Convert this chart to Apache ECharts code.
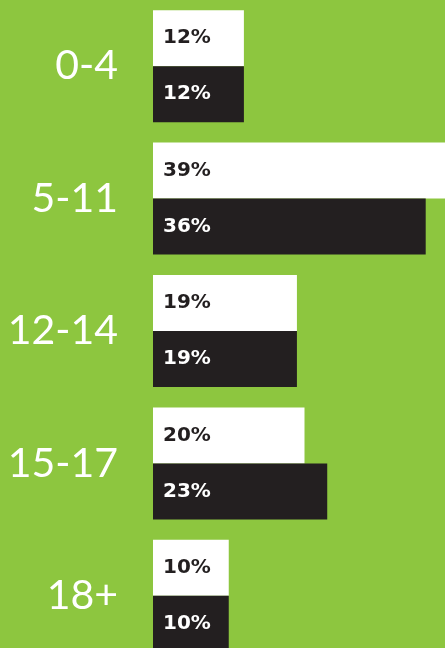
<!DOCTYPE html>
<html>
<head>
<meta charset="utf-8">
<script src="https://cdn.jsdelivr.net/npm/echarts@6/dist/echarts.min.js"></script>
<style>
    html, body {margin: 0; padding: 0; background: #8dc63f;}
    #main {width: 445px; height: 648px;}
</style>
</head>
<body>
<div id="main"></div>
<script>
// age groups, top to bottom
let ages = ['0-4', '5-11', '12-14', '15-17', '18+'];
// white bars (upper of each pair)
let whiteVals = [12, 39, 19, 20, 10];
// dark bars (lower of each pair)
let darkVals = [12, 36, 19, 23, 10];

let myChart = echarts.init(document.getElementById('main'));

function barLabel(color) {
    return {
        show: true,
        position: 'insideLeft',
        distance: 10,
        formatter: '{c}%',
        color: color,
        fontFamily: 'DejaVu Sans',
        fontWeight: 'bold',
        fontSize: 20,
        padding: [5, 0, 0, 0]
    };
}

let option = {
    backgroundColor: '#8dc63f',
    animation: false,
    grid: {
        left: 153,
        top: 0,
        width: 303,
        height: 662,
        outerBoundsMode: 'none'
    },
    xAxis: {
        type: 'value',
        min: 0,
        max: 40,
        show: false
    },
    yAxis: {
        type: 'category',
        data: ages,
        inverse: true,
        axisLine: {show: false},
        axisTick: {show: false},
        splitLine: {show: false},
        axisLabel: {
            color: '#ffffff',
            fontFamily: 'Lato',
            fontWeight: 'normal',
            fontSize: 41,
            margin: 35,
            padding: [7, 0, 0, 0]
        }
    },
    series: [{
        type: 'bar',
        data: whiteVals,
        barWidth: 56,
        barGap: '0%',
        itemStyle: {color: '#ffffff'},
        label: barLabel('#231f20')
    }, {
        type: 'bar',
        data: darkVals,
        barWidth: 56,
        barGap: '0%',
        itemStyle: {color: '#231f20'},
        label: barLabel('#ffffff')
    }]
};
myChart.setOption(option);
</script>
</body>
</html>
